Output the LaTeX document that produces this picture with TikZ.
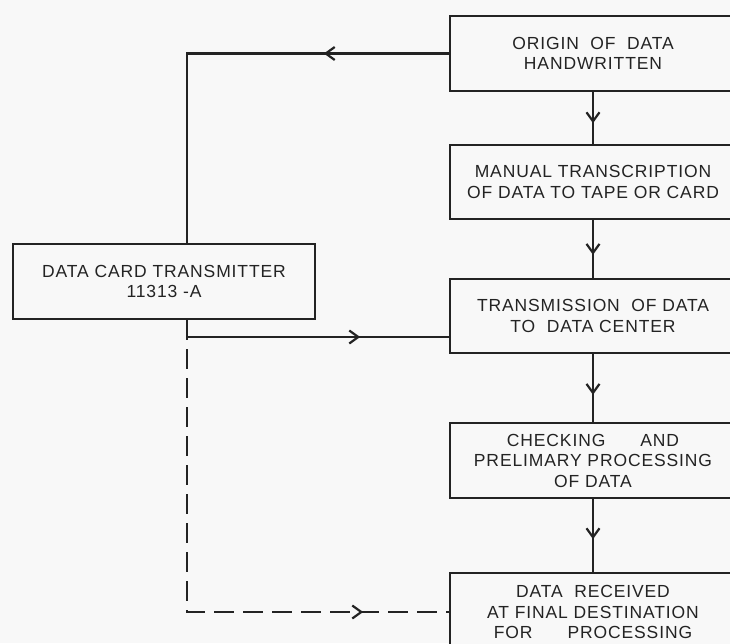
\documentclass[tikz,border=0pt]{standalone}
\usepackage{fontspec}
\setmainfont[LetterSpace=5]{Liberation Sans}
\usetikzlibrary{arrows.meta,decorations.markings}
\definecolor{ink}{RGB}{35,35,35}
\definecolor{paper}{RGB}{248,248,248}
\tikzset{
  x=1pt,y=-1pt,
  box/.style={draw=ink,line width=2.3pt,fill=paper,align=center,inner sep=0pt,
    font=\fontsize{17.5}{20.5}\selectfont,text=ink},
  rbox/.style={box,minimum width=286pt,minimum height=75pt},
  flow/.style={draw=ink,line width=2.1pt},
  midarrow/.style={postaction={decorate},decoration={markings,
    mark=at position #1 with {\arrow[ink,line width=2.2pt]{Straight Barb[length=9pt,width=13pt]}}}},
  dashline/.style={flow,dash pattern=on 20pt off 9pt}
}
\begin{document}
\begin{tikzpicture}
\useasboundingbox (0,0) rectangle (730,643);
\fill[paper] (0,0) rectangle (730,643);
\clip (0,0) rectangle (730,643);
\node[rbox] (o) at (593,53.5) {ORIGIN\ \ OF\ \ DATA\\HANDWRITTEN};
\node[rbox,minimum height=74pt] (m) at (593,182) {MANUAL TRANSCRIPTION\\OF DATA TO TAPE OR CARD};
\node[rbox,minimum height=74pt] (tx) at (593,316) {TRANSMISSION\ \ OF\ DATA\\TO\ \ DATA CENTER};
\node[rbox] (c) at (593,460.5) {CHECKING\qquad AND\\PRELIMARY PROCESSING\\OF DATA};
\node[rbox,minimum height=78pt] (r) at (593,612) {DATA\ \ RECEIVED\\AT FINAL DESTINATION\\FOR\qquad PROCESSING};
\node[box,minimum width=302pt,minimum height=75pt] (t) at (164,281.5) {DATA CARD TRANSMITTER\\11313 -A};
\coordinate (jx) at (187,0);
\coordinate (e3) at ([yshift=-21pt]tx.west);
% vertical chain
\draw[flow,midarrow=0.6] (o.south) -- (m.north);
\draw[flow,midarrow=0.6] (m.south) -- (tx.north);
\draw[flow,midarrow=0.6] (tx.south) -- (c.north);
\draw[flow,midarrow=0.55] (c.south) -- (r.north);
% left loop
\draw[flow,midarrow=125pt] (o.west) -- (o.west -| jx) -- (jx |- t.north);
\draw[flow,midarrow=190pt] (jx |- t.south) -- (jx |- e3) -- (e3);
\draw[dashline,midarrow=468pt] (jx |- t.south) -- (jx |- r.west) -- (r.west);
\end{tikzpicture}
\end{document}
